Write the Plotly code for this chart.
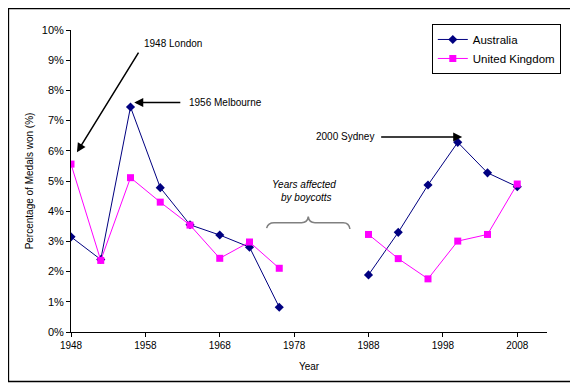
import plotly.graph_objects as go

years = [1948, 1952, 1956, 1960, 1964, 1968, 1972, 1976, 1980, 1984, 1988, 1992, 1996, 2000, 2004, 2008]
australia = [3.15, 2.40, 7.45, 4.78, 3.55, 3.21, 2.81, 0.82, None, None, 1.89, 3.30, 4.87, 6.28, 5.27, 4.81]
united_kingdom = [5.56, 2.37, 5.11, 4.30, 3.54, 2.44, 2.98, 2.11, None, None, 3.23, 2.43, 1.76, 3.01, 3.23, 4.90]
x_ticks = [1948, 1958, 1968, 1978, 1988, 1998, 2008]
y_ticks = [0, 1, 2, 3, 4, 5, 6, 7, 8, 9, 10]
y_tick_labels = [f"{v}%" for v in y_ticks]

FONT = "Liberation Sans, Arial, sans-serif"

fig = go.Figure()
fig.add_trace(go.Scatter(
    x=years, y=australia, name="Australia", mode="lines+markers",
    line=dict(color="#000080", width=1),
    marker=dict(symbol="diamond", size=7, color="#000080"),
    connectgaps=False,
))
fig.add_trace(go.Scatter(
    x=years, y=united_kingdom, name="United Kingdom", mode="lines+markers",
    line=dict(color="#FF00FF", width=1),
    marker=dict(symbol="square", size=7, color="#FF00FF"),
    connectgaps=False,
))

fig.update_layout(
    width=570, height=378,
    margin=dict(l=63, r=31, t=22, b=54),
    paper_bgcolor="white", plot_bgcolor="white",
    font=dict(family=FONT, size=11, color="black"),
    showlegend=True,
    legend=dict(
        x=0.758, y=1.02, xanchor="left", yanchor="top",
        bordercolor="black", borderwidth=1, bgcolor="white",
        font=dict(size=11.5, family=FONT),
        tracegroupgap=0, itemwidth=30,
    ),
    xaxis=dict(
        range=[1948, 2012], tickvals=x_ticks, ticktext=[str(t) for t in x_ticks],
        showgrid=False, zeroline=False, showline=True, linecolor="black", linewidth=1,
        ticks="outside", ticklen=4, tickcolor="black",
        tickfont=dict(size=10),
        title=dict(text="Year", font=dict(size=10), standoff=12),
    ),
    yaxis=dict(
        range=[0, 10], tickvals=y_ticks, ticktext=y_tick_labels,
        showgrid=False, zeroline=False, showline=True, linecolor="black", linewidth=1,
        ticks="outside", ticklen=4, tickcolor="black",
        tickfont=dict(size=11),
        title=dict(text="Percentage of Medals won (%)", font=dict(size=10), standoff=6),
    ),
)

# outer border
fig.add_shape(type="rect", xref="paper", yref="paper",
              x0=-0.1315, x1=1.0535, y0=-0.1635, y1=1.0715,
              line=dict(color="black", width=1.5), fillcolor="rgba(0,0,0,0)", layer="below")

# arrows
fig.add_annotation(x=1948.8, y=5.95, ax=1957.2, ay=9.3, xref="x", yref="y", axref="x", ayref="y",
                   showarrow=True, arrowhead=2, arrowsize=1.2, arrowwidth=1.5, arrowcolor="black", text="")
fig.add_annotation(x=1956.5, y=7.6, ax=1962.9, ay=7.6, xref="x", yref="y", axref="x", ayref="y",
                   showarrow=True, arrowhead=2, arrowsize=1.2, arrowwidth=1.5, arrowcolor="black", text="")
fig.add_annotation(x=2000.6, y=6.46, ax=1989.5, ay=6.46, xref="x", yref="y", axref="x", ayref="y",
                   showarrow=True, arrowhead=2, arrowsize=1.2, arrowwidth=1.5, arrowcolor="black", text="")

# labels
fig.add_annotation(x=1957.6, y=9.55, xref="x", yref="y", text="1948 London", showarrow=False,
                   xanchor="left", font=dict(size=10))
fig.add_annotation(x=1963.6, y=7.6, xref="x", yref="y", text="1956 Melbourne", showarrow=False,
                   xanchor="left", font=dict(size=10))
fig.add_annotation(x=1989.0, y=6.46, xref="x", yref="y", text="2000 Sydney", showarrow=False,
                   xanchor="right", font=dict(size=10))
fig.add_annotation(x=1979.3, y=4.9, xref="x", yref="y", text="<i>Years affected</i>", showarrow=False,
                   font=dict(size=10))
fig.add_annotation(x=1979.6, y=4.45, xref="x", yref="y", text="<i>by boycotts</i>", showarrow=False,
                   font=dict(size=10))

# brace
fig.add_shape(type="path", xref="x", yref="y",
              path="M 1974.3 3.44 Q 1974.5 3.62 1975.3 3.62 L 1979.0 3.62 Q 1979.8 3.62 1979.9 3.82 "
                   "Q 1980.0 3.62 1980.8 3.62 L 1984.6 3.62 Q 1985.4 3.62 1985.5 3.41",
              line=dict(color="#808080", width=1.5))

fig.write_html("out.html")
